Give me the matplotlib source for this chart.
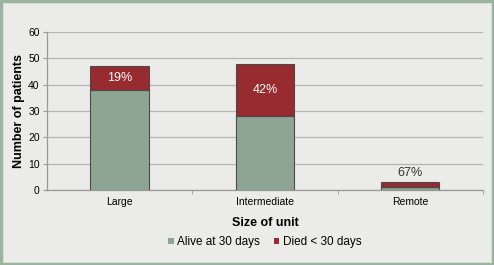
import numpy as np
import matplotlib.pyplot as plt
from matplotlib.patches import Rectangle, Patch

# ── 데이터 ──────────────────────────────────────────
categories = ['Large', 'Intermediate', 'Remote']
alive = [38, 28, 1]
died = [9, 20, 2]
pct_labels = ['19%', '42%', '67%']

C_ALIVE = '#8FA593'
C_DIED = '#972B2F'
BG = '#EBECEA'
BORDER = '#9CB3A0'

plt.rcParams['font.family'] = ['Liberation Sans', 'DejaVu Sans']

fig = plt.figure(figsize=(4.94, 2.65), dpi=100, facecolor=BG)
fig.patches.append(Rectangle((0.003, 0.005), 0.994, 0.99, transform=fig.transFigure,
                             fill=False, edgecolor=BORDER, lw=2.5))
ax = fig.add_axes([0.0945, 0.283, 0.8835, 0.596])
ax.set_facecolor(BG)

x = np.arange(len(categories))
ax.bar(x, alive, width=0.4, color=C_ALIVE, edgecolor='#4A4A4A', lw=0.8, zorder=3)
ax.bar(x, died, width=0.4, bottom=alive, color=C_DIED, edgecolor='#4A4A4A', lw=0.8,
       zorder=3)

# ── 퍼센트 라벨 ──
for i, (a, d, t) in enumerate(zip(alive, died, pct_labels)):
    if d >= 5:
        ax.text(i, a + d / 2, t, ha='center', va='center', color='white',
                fontsize=9, zorder=4)
    else:
        ax.text(i, a + d + 1.2, t, ha='center', va='bottom', color='#333333',
                fontsize=9, zorder=4)

ax.set_xlim(-0.5, 2.5)
ax.set_ylim(0, 60)
ax.set_yticks(range(0, 61, 10))
ax.set_xticks(x)
ax.set_xticklabels(categories, fontsize=7.5)
ax.tick_params(axis='y', labelsize=7.5, length=3, color='#999999', pad=2)
ax.tick_params(axis='x', length=0, pad=5)
ax.set_xticks([0.5, 1.5, 2.5], minor=True)
ax.tick_params(axis='x', which='minor', length=3, color='#999999')
ax.grid(axis='y', color='#B5B5B5', lw=0.9, zorder=0)
for s in ['top', 'right']:
    ax.spines[s].set_visible(False)
for s in ['left', 'bottom']:
    ax.spines[s].set_color('#999999')
    ax.spines[s].set_linewidth(0.9)

ax.set_ylabel('Number of patients', fontsize=9, fontweight='bold', labelpad=2)
ax.set_xlabel('Size of unit', fontsize=9, fontweight='bold', labelpad=7)

handles = [Patch(facecolor=C_ALIVE, edgecolor='none', label='Alive at 30 days'),
           Patch(facecolor=C_DIED, edgecolor='none', label='Died < 30 days')]
ax.legend(handles=handles, loc='center', bbox_to_anchor=(0.5, -0.33), ncol=2,
          frameon=False, fontsize=8.5, handlelength=0.45, handleheight=0.45,
          handletextpad=0.3, columnspacing=1.2, borderpad=0)

fig.savefig('out.png', dpi=100, facecolor=BG)
